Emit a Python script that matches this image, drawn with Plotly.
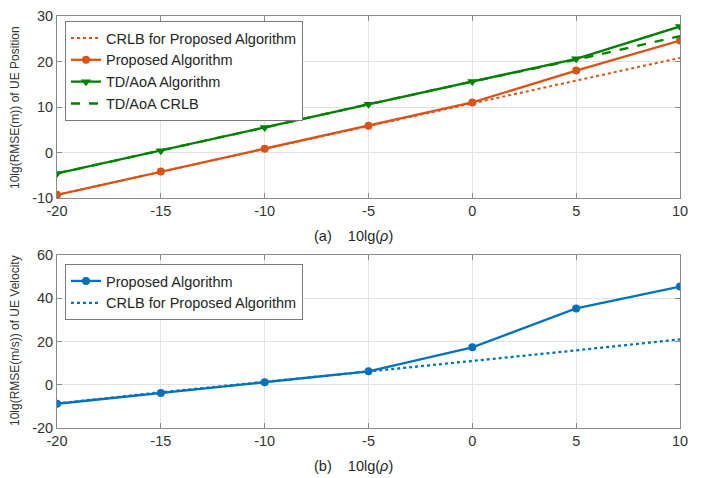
import plotly.graph_objects as go

snr = [-20, -15, -10, -5, 0, 5, 10]
snr_labels = ["-20", "-15", "-10", "-5", "0", "5", "10"]
# (a) position
crlb_pos = [-9.3, -4.2, 0.8, 5.8, 10.8, 15.9, 20.8]
prop_pos = [-9.3, -4.2, 0.8, 5.9, 11.0, 18.0, 24.6]
tdaoa_pos = [-4.6, 0.4, 5.5, 10.6, 15.6, 20.6, 27.7]
tdaoa_crlb_pos = [-4.6, 0.4, 5.5, 10.6, 15.6, 20.4, 25.6]
pos_ticks = [-10, 0, 10, 20, 30]
pos_labels = ["-10", "0", "10", "20", "30"]
# (b) velocity
prop_vel = [-8.8, -3.8, 1.1, 6.2, 17.3, 35.3, 45.4]
crlb_vel = [-8.7, -3.5, 1.3, 6.0, 11.0, 15.9, 21.0]
vel_ticks = [-20, 0, 20, 40, 60]
vel_labels = ["-20", "0", "20", "40", "60"]

orange = "#D95319"
green = "#008000"
blue = "#0072BD"

fig = go.Figure()
fig.add_trace(go.Scatter(x=snr, y=crlb_pos, mode="lines", name="CRLB for Proposed Algorithm",
                         line=dict(color=orange, width=2, dash="dot"), xaxis="x", yaxis="y", legend="legend"))
fig.add_trace(go.Scatter(x=snr, y=prop_pos, mode="lines+markers", name="Proposed Algorithm",
                         line=dict(color=orange, width=2.3), marker=dict(symbol="circle", size=8, color=orange),
                         xaxis="x", yaxis="y", legend="legend"))
fig.add_trace(go.Scatter(x=snr, y=tdaoa_pos, mode="lines+markers", name="TD/AoA Algorithm",
                         line=dict(color=green, width=2.3), marker=dict(symbol="triangle-down", size=9, color=green),
                         xaxis="x", yaxis="y", legend="legend"))
fig.add_trace(go.Scatter(x=snr, y=tdaoa_crlb_pos, mode="lines", name="TD/AoA CRLB",
                         line=dict(color=green, width=2.3, dash="dash"), xaxis="x", yaxis="y", legend="legend"))

fig.add_trace(go.Scatter(x=snr, y=prop_vel, mode="lines+markers", name="Proposed Algorithm",
                         line=dict(color=blue, width=2.3), marker=dict(symbol="circle", size=8, color=blue),
                         xaxis="x2", yaxis="y2", legend="legend2"))
fig.add_trace(go.Scatter(x=snr, y=crlb_vel, mode="lines", name="CRLB for Proposed Algorithm",
                         line=dict(color=blue, width=2.3, dash="dot"),
                         xaxis="x2", yaxis="y2", legend="legend2"))

axis_common = dict(showgrid=True, gridcolor="#E3E3E3", gridwidth=1, zeroline=False, automargin=False,
                   showline=True, linecolor="#8A8A8A", linewidth=1, mirror="ticks",
                   ticks="inside", ticklen=5, tickcolor="#8A8A8A", ticklabeloverflow="allow",
                   tickfont=dict(family="Liberation Sans, Arial", size=14.5, color="#333333"))

# the page body adds an 8 px offset; layout is expressed in screenshot pixels
OFF = 8
W, H = 712 - OFF, 478 - OFF
L, T = 57 - OFF, 16 - OFF
R = W - (680 - OFF)
B = H - (428 - OFF)
PW, PH = W - L - R, H - T - B


def px_x(px):
    return (px - OFF - L) / PW


def px_y(py):
    return (H - B - (py - OFF)) / PH


fig.update_layout(
    width=W, height=H,
    margin=dict(l=L, r=R, t=T, b=B, autoexpand=False),
    paper_bgcolor="white", plot_bgcolor="white",
    font=dict(family="Liberation Sans, Arial", color="#262626"),
    xaxis=dict(domain=[0, 1], range=[-20, 10], tickvals=snr, ticktext=snr_labels, anchor="y", **axis_common),
    yaxis=dict(domain=[px_y(198), 1], range=[-10, 30], tickvals=pos_ticks, ticktext=pos_labels, anchor="x",
               **axis_common),
    xaxis2=dict(domain=[0, 1], range=[-20, 10], tickvals=snr, ticktext=snr_labels, anchor="y2", **axis_common),
    yaxis2=dict(domain=[0, px_y(255)], range=[-20, 60], tickvals=vel_ticks, ticktext=vel_labels, anchor="x2",
                **axis_common),
    legend=dict(x=px_x(65), y=px_y(21), xanchor="left", yanchor="top", bgcolor="white",
                bordercolor="#7A7A7A", borderwidth=1, itemwidth=30, tracegroupgap=0,
                font=dict(size=14.5, color="#262626")),
    legend2=dict(x=px_x(65), y=px_y(264), xanchor="left", yanchor="top", bgcolor="white",
                 bordercolor="#7A7A7A", borderwidth=1, itemwidth=30,
                 font=dict(size=14.5, color="#262626")),
    showlegend=True,
    annotations=[
        dict(text="(a)\u00a0\u00a0\u00a0\u00a010lg(<i>\u03c1</i>)", x=px_x(353), y=px_y(236),
             xanchor="center", yanchor="middle", xref="paper", yref="paper",
             showarrow=False, font=dict(size=14.5, color="#262626")),
        dict(text="(b)\u00a0\u00a0\u00a0\u00a010lg(<i>\u03c1</i>)", x=px_x(353), y=px_y(466),
             xanchor="center", yanchor="middle", xref="paper", yref="paper",
             showarrow=False, font=dict(size=14.5, color="#262626")),
        dict(text="10lg(RMSE(m)) of UE Position", textangle=-90, x=px_x(15), y=px_y(108),
             xanchor="center", yanchor="middle", xref="paper", yref="paper",
             showarrow=False, font=dict(size=12, color="#333333")),
        dict(text="10lg(RMSE(m/s)) of UE Velocity", textangle=-90, x=px_x(15), y=px_y(341),
             xanchor="center", yanchor="middle", xref="paper", yref="paper",
             showarrow=False, font=dict(size=12, color="#333333")),
    ],
)

fig.write_html("out.html")
